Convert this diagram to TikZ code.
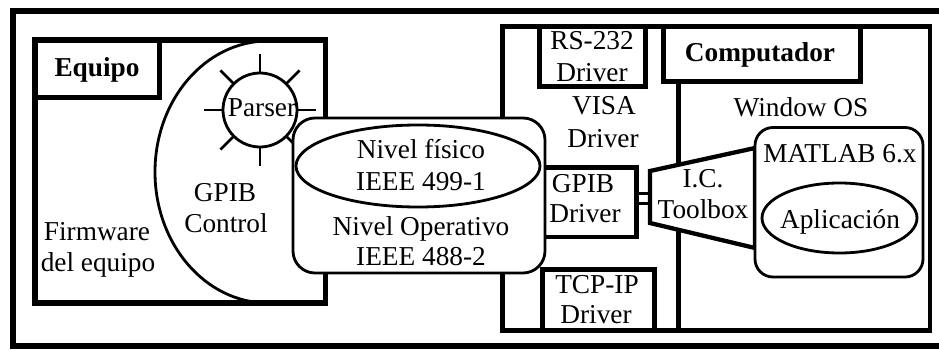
\documentclass[tikz,border=0pt]{standalone}
\usepackage{fontspec}
\setmainfont{Liberation Serif}
\begin{document}
\begin{tikzpicture}[x=1pt,y=-1pt,line join=miter,
  heavy/.style={line width=5pt},
  mid/.style={line width=4.3pt},
  slim/.style={line width=2.8pt},
  lbl/.style={anchor=base, inner sep=0pt, font=\fontsize{27.3}{30}\selectfont},
  blbl/.style={anchor=base, inner sep=0pt, font=\fontsize{27.3}{30}\selectfont\bfseries}]
\useasboundingbox (0,0) rectangle (939,350);
% outer frame (open on the right)
\draw[line width=6pt] (950,11.5) -- (12.5,11.5) -- (12.5,345.5) -- (950,345.5);
% Equipo
\draw[line width=5.5pt] (35,40) rectangle (325.5,303);
\draw[line width=5.5pt] (35,40) rectangle (159.5,97.5);
% GPIB control half ellipse
\draw[slim] (268,41) arc[start angle=-90, end angle=-270, x radius=113, y radius=131];
% Parser sun
\node[circle, draw, slim, fill=white, minimum size=74pt, inner sep=0pt] (parsercirc) at (260,110) {};
\begin{scope}[shift={(260,110)}]
\foreach \a in {0,45,...,315} \draw[slim] (\a:37) -- (\a:56);
\end{scope}
% right big box
\draw[mid] (502.5,26.5) rectangle (930,330.5);
\draw[heavy] (539.5,26.5) rectangle (645,87);
\draw[heavy] (542,269) rectangle (654,330.5);
\draw[heavy] (663.5,26.5) rectangle (860,81.5);
\draw[mid] (678.5,81.5) -- (678.5,330.5);
\draw[mid] (530,167.5) rectangle (636.5,237);
% Nivel box
\draw[slim, fill=white, rounded corners=22pt] (293,118) rectangle (545,273);
\draw[slim] (418,166) ellipse[x radius=122, y radius=41];
% connector and toolbox
\draw[line width=3.2pt] (636.5,193.5) rectangle (649.5,203.5);
\draw[mid, fill=white] (650,171) -- (755,148) -- (755,248) -- (650,223) -- cycle;
% MATLAB
\draw[slim, fill=white, rounded corners=18pt] (755,127.5) rectangle (923,277);
\draw[slim] (839.5,218) ellipse[x radius=77.5, y radius=35];
% texts
\node[blbl] (tequipo) at (97,77) {Equipo};
\node[lbl] (tfirm1) at (97,240) {Firmware};
\node[lbl] (tfirm2) at (98,271) {del equipo};
\node[lbl] (tgpibc1) at (225,201) {GPIB};
\node[lbl] (tgpibc2) at (226,232) {Control};
\node[lbl] (tparser) at (262,117) {Parser};
\node[lbl] (tniv1) at (421,158) {Nivel físico};
\node[lbl] (tniv2) at (421,190) {IEEE 499-1};
\node[lbl] (tniv3) at (421,235) {Nivel Operativo};
\node[lbl] (tniv4) at (421,265) {IEEE 488-2};
\node[lbl] (trs1) at (592,50) {RS-232};
\node[lbl] (trs2) at (592,82) {Driver};
\node[lbl] (tvisa1) at (604,115) {VISA};
\node[lbl] (tvisa2) at (603,147) {Driver};
\node[lbl] (tgd1) at (583,192) {GPIB};
\node[lbl] (tgd2) at (585,222) {Driver};
\node[lbl] (ttcp1) at (597,293) {TCP-IP};
\node[lbl] (ttcp2) at (596,323) {Driver};
\node[blbl] (tcomp) at (760,62) {Computador};
\node[lbl] (twin) at (801,117) {Window OS};
\node[lbl] (tmat) at (840,162) {MATLAB 6.x};
\node[lbl] (tic1) at (703,187) {I.C.};
\node[lbl] (tic2) at (703,218) {Toolbox};
\node[lbl] (tapl) at (840,228) {Aplicación};
\end{tikzpicture}
\end{document}
